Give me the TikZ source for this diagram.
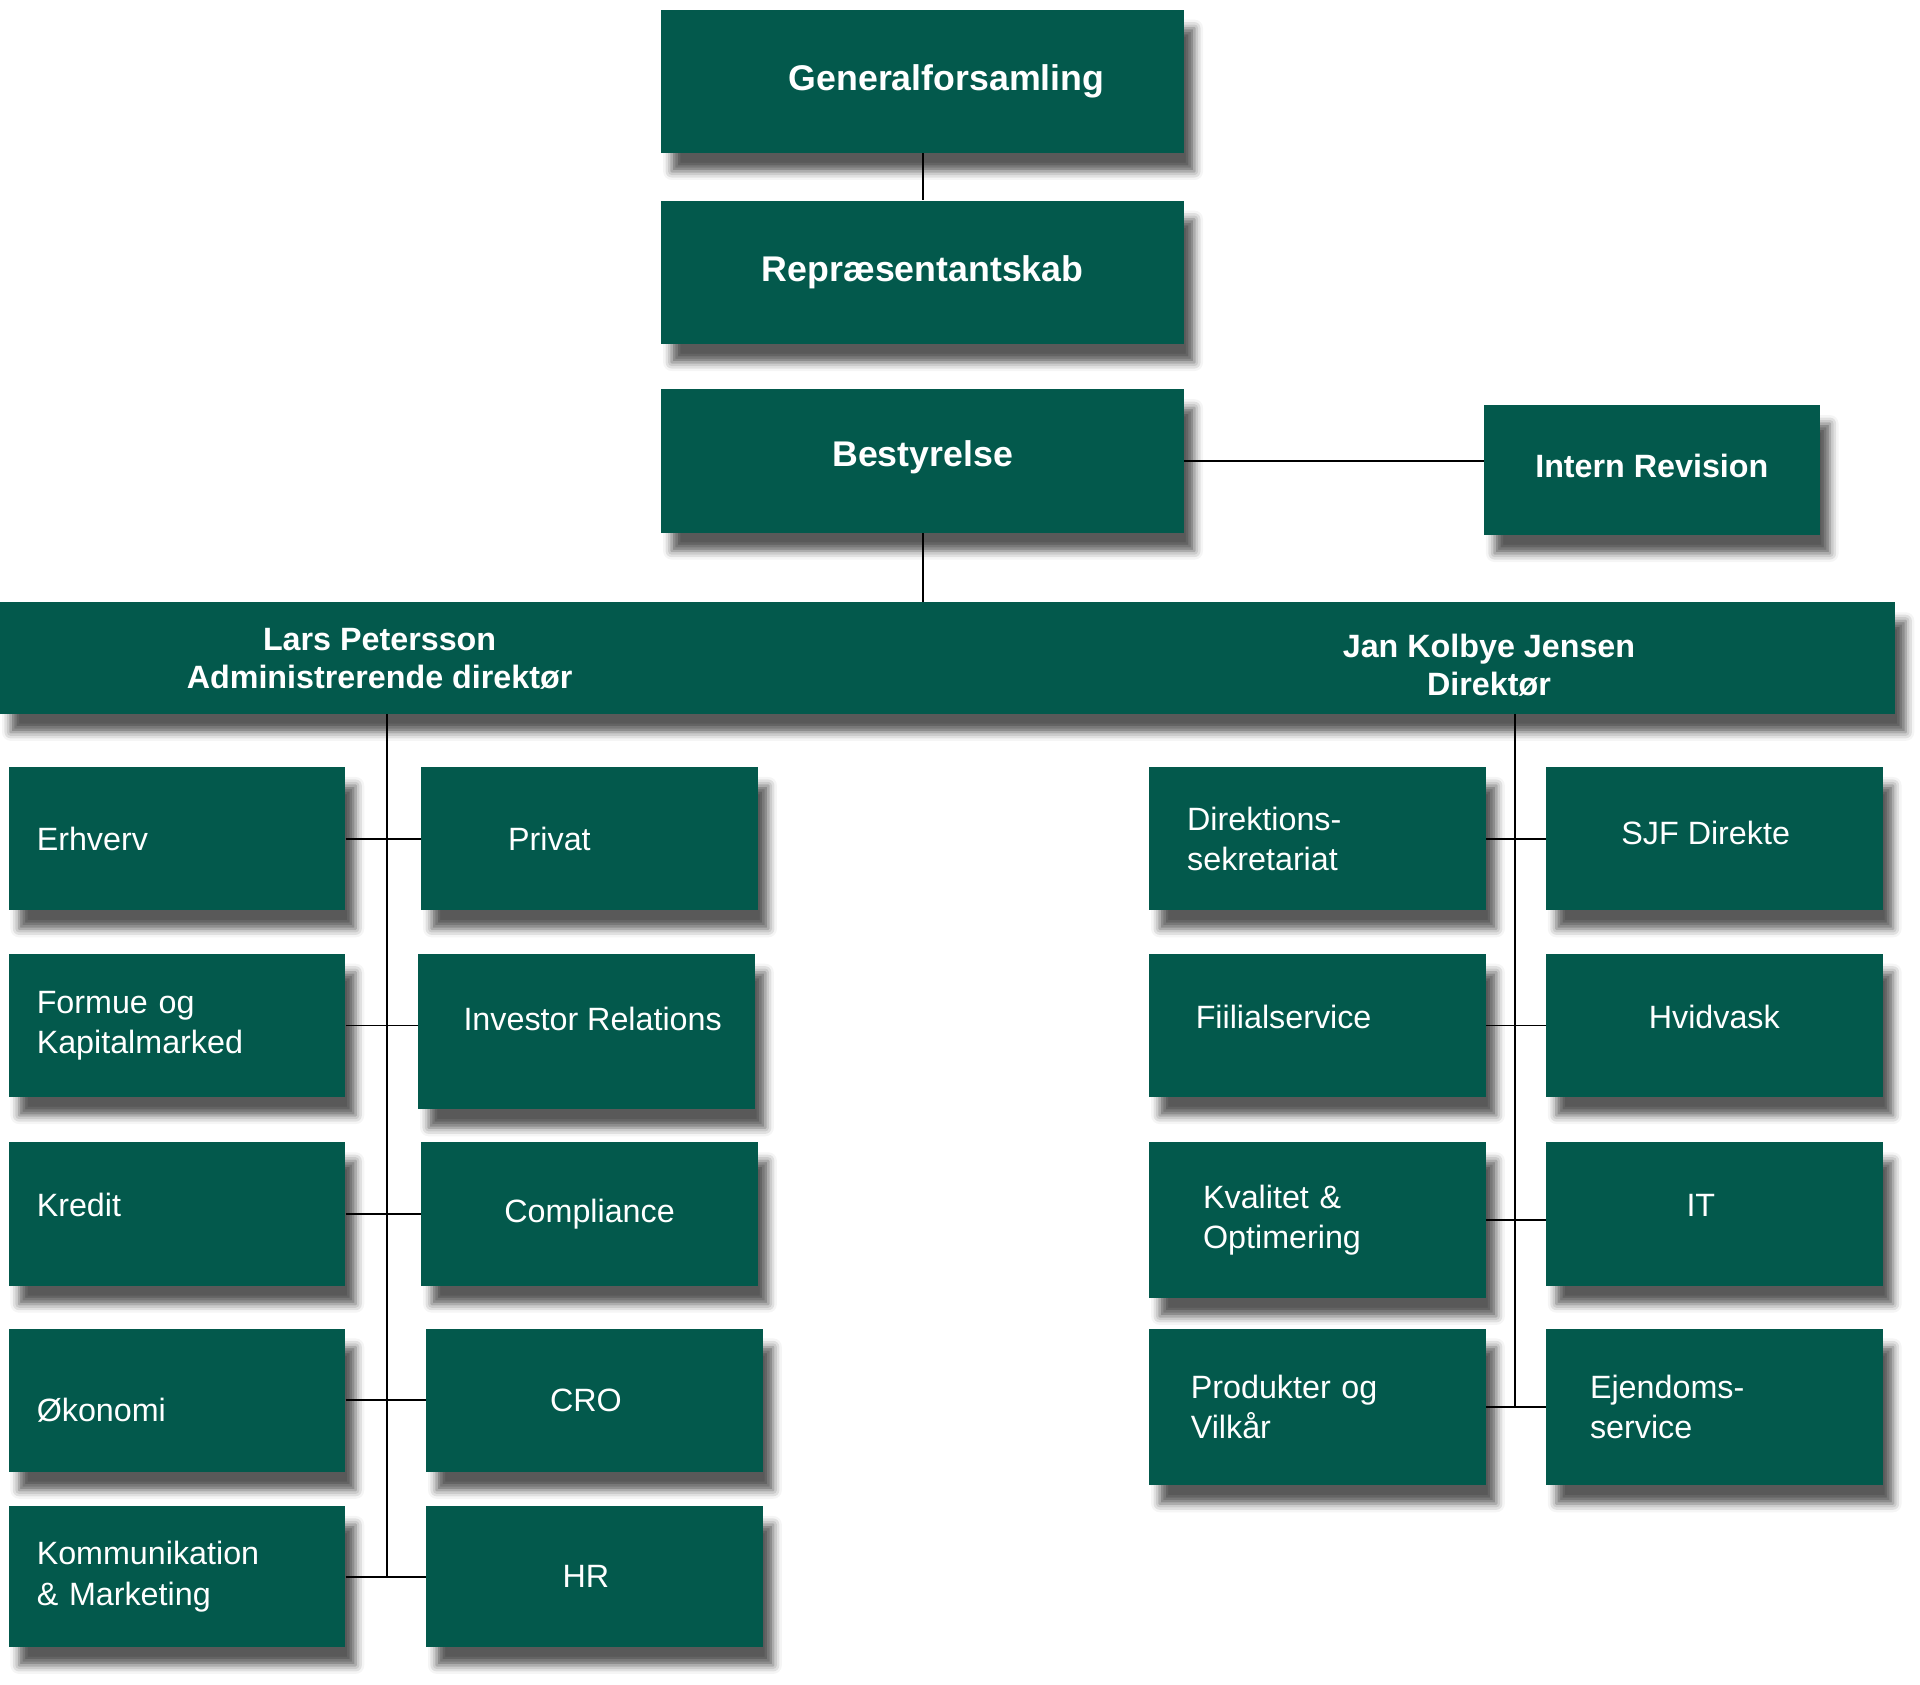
\documentclass[tikz,border=0pt]{standalone}
\usepackage{fontspec}
\setmainfont{Liberation Sans}
\usetikzlibrary{shadows.blur,calc}
\definecolor{sjfgreen}{RGB}{3,89,76}
\tikzset{
  unit/.style={fill=sjfgreen, text=white, inner sep=0pt,
    blur shadow={shadow xshift=0.17cm, shadow yshift=-0.3cm,
      shadow blur radius=0.14cm, shadow opacity=65}},
  board/.style={unit, minimum width=8.54cm, minimum height=2.34cm,
    font=\fontsize{16.6}{20}\selectfont\bfseries},
  dept/.style={unit, minimum width=5.5cm, minimum height=2.34cm,
    font=\fontsize{15}{18.7}\selectfont},
  lpad/.style 2 args={align=left, text width=#1, inner xsep=#2},
  boss/.style={text=white, align=center, font=\fontsize{15}{17.6}\selectfont\bfseries},
  link/.style={line width=0.9pt}
}
\begin{document}
\begin{tikzpicture}[x=0.02cm, y=-0.02cm]
        \useasboundingbox (0,0) rectangle (1568,1376);
        \node[board] (gen) at (753.5,66.5) {\hspace*{0.78cm}Generalforsamling};
        \node[board] (rep) at (753.5,222.5) {Repræsentantskab};
        \node[board, text depth=0.24cm] (best) at (753.5,376.5) {Bestyrelse};
        \node[board, minimum width=5.48cm, minimum height=2.12cm, text depth=0.16cm,
          font=\fontsize{15}{18}\selectfont\bfseries] (intrev) at (1349,384) {Intern Revision};
        \node[unit, minimum width=30.96cm, minimum height=1.82cm] (mgmt) at (774,537.5) {};
        \node[boss] (ceo) at (310,538) {Lars Petersson\\Administrerende direktør};
        \node[boss] (dir) at (1216,543) {Jan Kolbye Jensen\\Direktør};
        \begin{scope}
          \node[dept, lpad={4.58cm}{0.46cm}] (erhverv) at (144.5,685) {Erhverv};
          \node[dept, lpad={4.58cm}{0.46cm}] (formue) at (144.5,837.5) {Formue og\\Kapitalmarked};
          \node[dept, lpad={4.58cm}{0.46cm}, text depth=0.3cm] (kredit) at (144.5,991.5) {Kredit};
          \node[dept, lpad={4.58cm}{0.46cm}, text height=0.7cm] (oekonomi) at (144.5,1143.5) {Økonomi};
          \node[dept, lpad={4.58cm}{0.46cm}, minimum height=2.3cm] (komm) at (144.5,1287.5) {Kommunikation\\\& Marketing};
          \node[dept, lpad={2.66cm}{1.42cm}] (privat) at (481.5,685) {Privat};
          \node[dept, minimum height=2.54cm, text depth=0.42cm] (investor) at (479,842.5) {\hspace*{0.2cm}Investor Relations};
          \node[dept] (compliance) at (481.5,991.5) {Compliance};
          \node[dept] (cro) at (485.5,1143.5) {CRO\hspace*{0.28cm}};
          \node[dept, minimum height=2.3cm] (hr) at (485.5,1287.5) {HR\hspace*{0.28cm}};
          \coordinate (lspine) at (316,0);
          \draw[link] (lspine |- mgmt.south) -- (lspine |- komm.east);
          \foreach \a/\b in {erhverv/privat, formue/investor, kredit/compliance, oekonomi/cro, komm/hr}
            \draw[link] (\a.east) -- (\a.east -| \b.west);
        \end{scope}
        \begin{scope}
          \node[dept, lpad={4.26cm}{0.62cm}] (direk) at (1076,685) {Direktions-\\sekretariat};
          \node[dept, lpad={3.98cm}{0.76cm}, text depth=0.3cm] (filial) at (1076,837.5) {Fiilialservice};
          \node[dept, lpad={3.74cm}{0.88cm}, minimum height=2.54cm] (kval) at (1076,996.5) {Kvalitet \&\\Optimering};
          \node[dept, lpad={4.14cm}{0.68cm}, minimum height=2.56cm] (prod) at (1076,1149) {Produkter og\\Vilkår};
          \node[dept, text depth=0.2cm] (sjf) at (1400,685) {SJF Direkte\hspace*{0.28cm}};
          \node[dept, text depth=0.3cm] (hvidvask) at (1400,837.5) {Hvidvask};
          \node[dept, text depth=0.3cm] (it) at (1400,991.5) {IT\hspace*{0.44cm}};
          \node[dept, lpad={4.06cm}{0.72cm}, minimum height=2.56cm] (ejendom) at (1400,1149) {Ejendoms-\\service};
          \coordinate (rspine) at (1237,0);
          \draw[link] (rspine |- mgmt.south) -- (rspine |- prod.east);
          \foreach \a/\b in {direk/sjf, filial/hvidvask, kval/it, prod/ejendom}
            \draw[link] (\a.east) -- (\a.east -| \b.west);
        \end{scope}
        \draw[link] (gen) -- (rep);
        \draw[link] (best.east) -- (best.east -| intrev.west);
        \draw[link] (best) -- (best |- mgmt.north);
      \end{tikzpicture}
\end{document}
